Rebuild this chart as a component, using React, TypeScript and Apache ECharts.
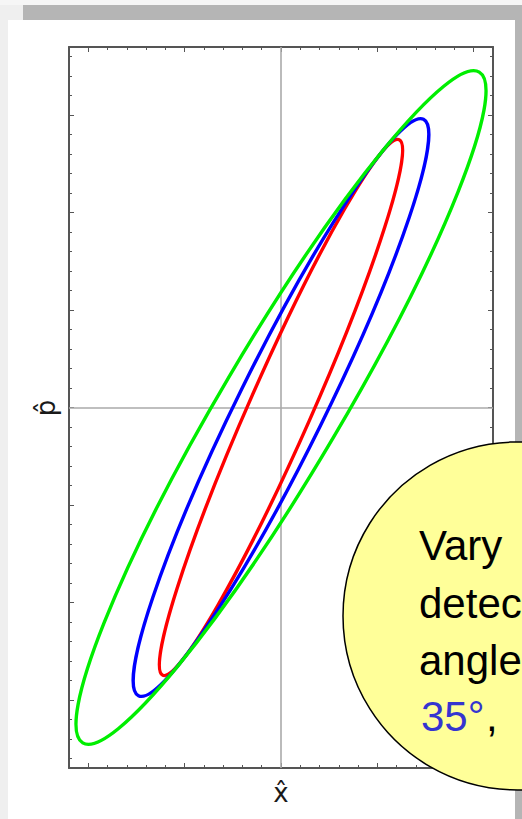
import React, { useEffect, useRef } from 'react';
import * as echarts from 'echarts';

// Uncertainty ellipses (semi-axes in axis units, tilt in degrees from the x̂ axis)
const ellipseNames = ['green', 'blue', 'red'];
const centerX = [0, 0, 0];
const centerY = [0, 0, 0];
const semiMajor = [4.02, 3.32, 3.02];
const semiMinor = [0.623, 0.448, 0.322];
const tiltDeg = [59.4, 63.7, 66.2];

// Axis ranges and ticks
const xRange = [-2.2, 2.2];
const yRange = [-3.7, 3.7];
const xMajorTicks = [-2, -1, 0, 1, 2];
const xMinorTicks = [-1.8, -1.6, -1.4, -1.2, -0.8, -0.6, -0.4, -0.2, 0.2, 0.4, 0.6, 0.8, 1.2, 1.4, 1.6, 1.8];
const yMajorTicks = [-3, -2, -1, 0, 1, 2, 3];
const yMinorTicks = [-3.6, -3.4, -3.2, -2.8, -2.6, -2.4, -2.2, -1.8, -1.6, -1.4, -1.2, -0.8, -0.6, -0.4, -0.2,
  0.2, 0.4, 0.6, 0.8, 1.2, 1.4, 1.6, 1.8, 2.2, 2.4, 2.6, 2.8, 3.2, 3.4, 3.6];

// Axis titles and callout text (as far as the reference shows it)
const xTitle = 'x\u0302';
const yTitle = 'p\u0302';
const calloutLines = ['Vary', 'detec', 'angle'];
const calloutAngle = '35°';
const calloutSep = ',';

const FRAME = '#555555';

function makeAxis(dim: 'x' | 'y', position: string, ticks: number[], len: number, showLine: boolean) {
  const range = dim === 'x' ? xRange : yRange;
  return {
    type: 'value',
    gridIndex: 0,
    position,
    min: range[0],
    max: range[1],
    silent: true,
    axisLine: { show: showLine, onZero: false, lineStyle: { color: FRAME, width: 2 } },
    axisTick: { show: true, inside: true, length: len, customValues: ticks, lineStyle: { color: FRAME, width: 1 } },
    axisLabel: { show: false },
    splitLine: { show: false },
    minorTick: { show: false },
    minorSplitLine: { show: false },
  };
}

export default function App() {
  const ref = useRef<HTMLDivElement>(null);

  useEffect(() => {
    if (!ref.current) return;
    const chart = echarts.init(ref.current, undefined, { renderer: 'svg' });
    const colors: Record<string, string> = { green: '#00ee00', blue: '#0000ff', red: '#ff0000' };
    const drawOrder = [2, 1, 0];

    const ellipseSeries = drawOrder.map((i) => ({
      type: 'custom',
      name: ellipseNames[i],
      xAxisIndex: 0,
      yAxisIndex: 0,
      z: 5 + (2 - i),
      encode: { x: 0, y: 1 },
      data: [[centerX[i], centerY[i], semiMajor[i], semiMinor[i], tiltDeg[i]]],
      renderItem: (params: any, api: any) => {
        const c = api.coord([api.value(0), api.value(1)]);
        const s = api.size([1, 1]);
        const k = (s[0] + s[1]) / 2;
        return {
          type: 'ellipse',
          x: c[0],
          y: c[1],
          rotation: (api.value(4) * Math.PI) / 180,
          shape: { cx: 0, cy: 0, rx: api.value(2) * k, ry: api.value(3) * k },
          style: { fill: 'none', stroke: colors[ellipseNames[i]], lineWidth: 3.4 },
        };
      },
    }));

    const calloutFont = '42px "Liberation Sans"';

    chart.setOption({
      animation: false,
      backgroundColor: 'transparent',
      grid: { left: 69, top: 47, width: 424, height: 721, outerBoundsMode: 'none' },
      xAxis: [
        makeAxis('x', 'bottom', xMajorTicks, 5, true),
        makeAxis('x', 'bottom', xMinorTicks, 3, false),
        makeAxis('x', 'top', xMajorTicks, 5, true),
        makeAxis('x', 'top', xMinorTicks, 3, false),
      ],
      yAxis: [
        makeAxis('y', 'left', yMajorTicks, 5, true),
        makeAxis('y', 'left', yMinorTicks, 3, false),
        makeAxis('y', 'right', yMajorTicks, 5, true),
        makeAxis('y', 'right', yMinorTicks, 3, false),
      ],
      series: [
        {
          type: 'line',
          xAxisIndex: 0,
          yAxisIndex: 0,
          data: [],
          z: 1,
          markLine: {
            silent: true,
            symbol: ['none', 'none'],
            label: { show: false },
            lineStyle: { color: '#aaaaaa', width: 1.6, type: 'solid' },
            data: [{ xAxis: 0 }, { yAxis: 0 }],
          },
        },
        ...ellipseSeries,
      ],
      graphic: [
        {
          type: 'text',
          x: 281,
          y: 793,
          style: { text: xTitle, font: '26px "DejaVu Sans"', fill: '#1a1a1a', align: 'center', verticalAlign: 'middle' },
        },
        {
          type: 'text',
          x: 46,
          y: 408,
          rotation: Math.PI / 2,
          style: { text: yTitle, font: '26px "DejaVu Sans"', fill: '#1a1a1a', align: 'center', verticalAlign: 'middle' },
        },
        {
          type: 'circle',
          z: 100,
          shape: { cx: 517, cy: 616, r: 174 },
          style: { fill: '#ffff99', stroke: '#000000', lineWidth: 1.5 },
        },
        ...calloutLines.map((t, i) => ({
          type: 'text',
          z: 101,
          x: 419,
          y: [545, 603, 660][i],
          style: { text: t, font: calloutFont, fill: '#000000', align: 'left', verticalAlign: 'middle' },
        })),
        {
          type: 'text',
          z: 101,
          x: 421,
          y: 716,
          style: { text: calloutAngle, font: calloutFont, fill: '#3535d0', align: 'left', verticalAlign: 'middle' },
        },
        {
          type: 'text',
          z: 101,
          x: 486,
          y: 716,
          style: { text: calloutSep, font: calloutFont, fill: '#000000', align: 'left', verticalAlign: 'middle' },
        },
      ],
    });
    return () => chart.dispose();
  }, []);

  return (
    <div style={{ position: 'fixed', left: 0, top: 0, width: 522, height: 819, background: '#efefef', overflow: 'hidden' }}>
      <div style={{ position: 'absolute', left: 0, top: 0, width: 522, height: 5, background: '#f6f6f6' }} />
      <div style={{ position: 'absolute', left: 23, top: 5, width: 499, height: 15, background: '#b5b5b5' }} />
      <div style={{ position: 'absolute', left: 515, top: 5, width: 7, height: 814, background: '#b5b5b5' }} />
      <div style={{ position: 'absolute', left: 8, top: 20, width: 507, height: 799, background: '#ffffff' }} />
      <div ref={ref} style={{ position: 'absolute', left: 0, top: 0, width: 522, height: 819 }} />
    </div>
  );
}
